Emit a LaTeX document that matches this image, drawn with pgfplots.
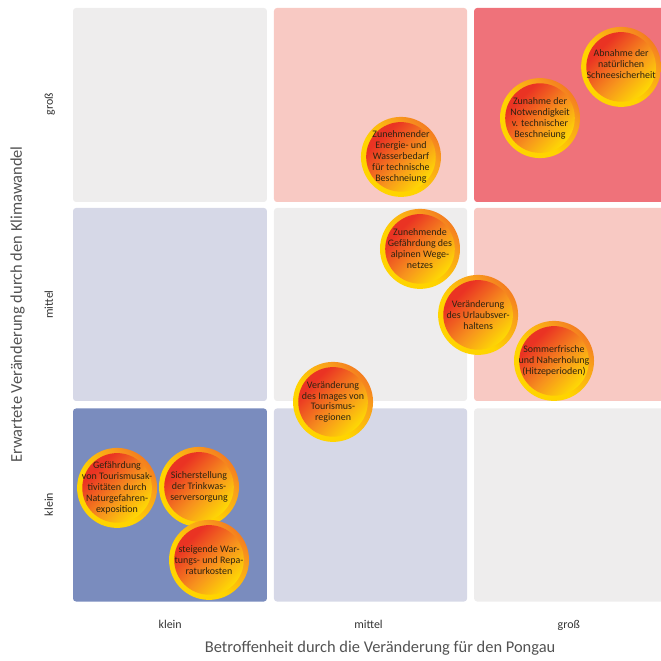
\documentclass[border=0pt]{standalone}
\usepackage{pgfplots}
\pgfplotsset{compat=1.18}
\usepackage{fontspec}
\setmainfont{Carlito}

\definecolor{cGray}{HTML}{EEEDED}
\definecolor{cPinkL}{HTML}{F8C9C3}
\definecolor{cRed}{HTML}{EF727A}
\definecolor{cLav}{HTML}{D6D8E7}
\definecolor{cBlue}{HTML}{7A8CBE}
\definecolor{ringY}{HTML}{FFD400}
\definecolor{ringO}{HTML}{F9A01B}
\definecolor{ringR}{HTML}{E9302A}
\definecolor{inR}{HTML}{EA3323}
\definecolor{inO}{HTML}{F7931D}
\definecolor{inY}{HTML}{FFE400}
\definecolor{txt}{HTML}{2E2410}

\pgfdeclarehorizontalshading{ringshade}{100bp}{color(0bp)=(ringY);color(42bp)=(ringY);color(64bp)=(ringO);color(100bp)=(ringR)}
\pgfdeclarehorizontalshading{innershade}{100bp}{color(0bp)=(inR);color(30bp)=(inR);color(55bp)=(inO);color(78bp)=(inY);color(100bp)=(inY)}

\pgfdeclareplotmark{bubble}{%
  \pgfpathcircle{\pgfpointorigin}{\pgfplotmarksize}%
  \pgfshadepath{ringshade}{45}%
  \pgfusepath{discard}%
  \pgfpathcircle{\pgfpointorigin}{0.87\pgfplotmarksize}%
  \pgfshadepath{innershade}{-45}%
  \pgfusepath{discard}%
}

\newcommand{\cell}[5]{%
  \addplot[fill=#5, draw=none, rounded corners=3bp] coordinates {(#1,#2) (#3,#2) (#3,#4) (#1,#4)} -- cycle;
}

\begin{document}
\begin{tikzpicture}
\begin{axis}[
  name=ax,
  scale only axis, width=591bp, height=604.5bp,
  xmin=0, xmax=2.95, ymin=0, ymax=3.0225,
  axis line style={draw=none}, major tick length=0pt,
  xtick={0.5,1.49,2.49}, xticklabels={klein,mittel,groß},
  ytick={0.5,1.5,2.5}, yticklabels={klein,mittel,groß},
  tick label style={font=\fontsize{12}{14}\selectfont, text=black!80},
  xticklabel style={anchor=base, yshift=-24bp},
  yticklabel style={rotate=90, anchor=base, yshift=17bp},
  xlabel={Betroffenheit durch die Veränderung für den Pongau},
  ylabel={Erwartete Veränderung durch den Klimawandel},
  label style={font=\fontsize{16.5}{19}\selectfont, text=black!68},
  xlabel style={at={(axis cs:1.548,0)}, anchor=base, yshift=-47.5bp},
  ylabel style={at={(axis cs:0,1.5)}, anchor=base, yshift=48bp},
  clip=true, clip marker paths=true,
]
\cell{0.015}{0.015}{0.983}{0.980}{cBlue}
\cell{1.018}{0.015}{1.982}{0.980}{cLav}
\cell{2.017}{0.015}{2.966}{0.980}{cGray}
\cell{0.015}{1.0175}{0.983}{1.9825}{cLav}
\cell{1.018}{1.0175}{1.982}{1.9825}{cGray}
\cell{2.017}{1.0175}{2.966}{1.9825}{cPinkL}
\cell{0.015}{2.0125}{0.983}{2.9825}{cGray}
\cell{1.018}{2.0125}{1.982}{2.9825}{cPinkL}
\cell{2.017}{2.0125}{2.966}{2.9825}{cRed}

\addplot[only marks, mark=bubble, mark size=40bp] coordinates {
  (2.751,2.688) (2.346,2.432) (1.652,2.238) (1.747,1.778) (2.037,1.448)
  (2.416,1.218) (1.313,1.013) (0.235,0.583) (0.644,0.588) (0.694,0.223)
};

\begin{scope}[every node/.style={align=center, text=txt, font=\fontsize{10}{11}\selectfont, inner sep=0pt}]
\node at (axis cs:2.751,2.700) {Abnahme der\\natürlichen\\Schneesicherheit};
\node at (axis cs:2.346,2.432) {Zunahme der\\Notwendigkeit\\v. technischer\\Beschneiung};
\node at (axis cs:1.652,2.238) {Zunehmender\\Energie- und\\Wasserbedarf\\für technische\\Beschneiung};
\node at (axis cs:1.747,1.778) {Zunehmende\\Gefährdung des\\alpinen Wege-\\netzes};
\node at (axis cs:2.037,1.448) {Veränderung\\des Urlaubsver-\\haltens};
\node at (axis cs:2.416,1.218) {Sommerfrische\\und Naherholung\\(Hitzeperioden)};
\node at (axis cs:1.313,1.013) {Veränderung\\des Images von\\Tourismus-\\regionen};
\node at (axis cs:0.235,0.583) {Gefährdung\\von Tourismusak-\\tivitäten durch\\Naturgefahren-\\exposition};
\node at (axis cs:0.644,0.588) {Sicherstellung\\der Trinkwas-\\serversorgung};
\node at (axis cs:0.694,0.223) {steigende War-\\tungs- und Repa-\\raturkosten};
\end{scope}
\end{axis}
\pgfresetboundingbox
\path[use as bounding box] ([shift={(-70bp,-56.5bp)}]ax.south west) rectangle (ax.north east);
\end{tikzpicture}
\end{document}
